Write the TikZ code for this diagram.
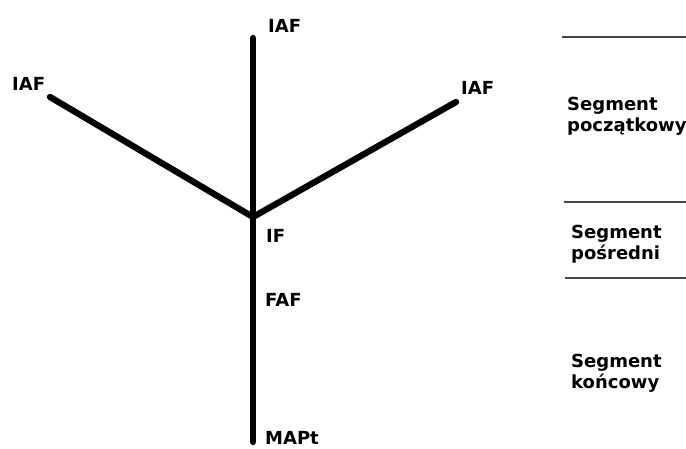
\documentclass[tikz,border=0pt]{standalone}
\usepackage{fontspec}
\setmainfont{DejaVu Sans}
\begin{document}
\begin{tikzpicture}[x=1pt,y=-1pt,
  route/.style={line width=6.3pt,line cap=round,line join=round,black},
  divider/.style={line width=1.6pt,draw=black!72},
  fix/.style={inner sep=0pt,anchor=base west,font=\fontsize{18}{20}\selectfont\bfseries},
  seglabel/.style={inner sep=0pt,anchor=base west,align=left,font=\fontsize{18}{20.5}\selectfont\bfseries}]
\useasboundingbox[fill=white] (0,0) rectangle (686,448);

% approach geometry
\coordinate (if)    at (253,217);
\coordinate (iafN)  at (253,38);
\coordinate (iafW)  at (50,97);
\coordinate (iafE)  at (456,102);
\coordinate (mapt)  at (253,442);

\draw[route] (iafN) -- (if);
\draw[route] (iafW) -- (if);
\draw[route] (iafE) -- (if);
\draw[route] (if) -- (mapt);

% fix names
\node[fix] (lN)   at (268,32)  {IAF};
\node[fix] (lW)   at (12,90)   {IAF};
\node[fix] (lE)   at (461,94)  {IAF};
\node[fix] (lIF)  at (266,242) {IF};
\node[fix] (lFAF) at (265,306) {FAF};
\node[fix] (lMAP) at (265,444) {MAPt};

% segment dividers
\coordinate (d1a) at (562,37);  \coordinate (d1b) at (686,37);
\coordinate (d2a) at (564,202); \coordinate (d2b) at (686,202);
\coordinate (d3a) at (565,278); \coordinate (d3b) at (686,278);
\draw[divider] (d1a) -- (d1b);
\draw[divider] (d2a) -- (d2b);
\draw[divider] (d3a) -- (d3b);

% segment names (anchored on the baseline of the second line)
\node[seglabel] (s1) at (567,131) {Segment\\początkowy};
\node[seglabel] (s2) at (571,259) {Segment\\pośredni};
\node[seglabel] (s3) at (571,388) {Segment\\końcowy};
\end{tikzpicture}
\end{document}
